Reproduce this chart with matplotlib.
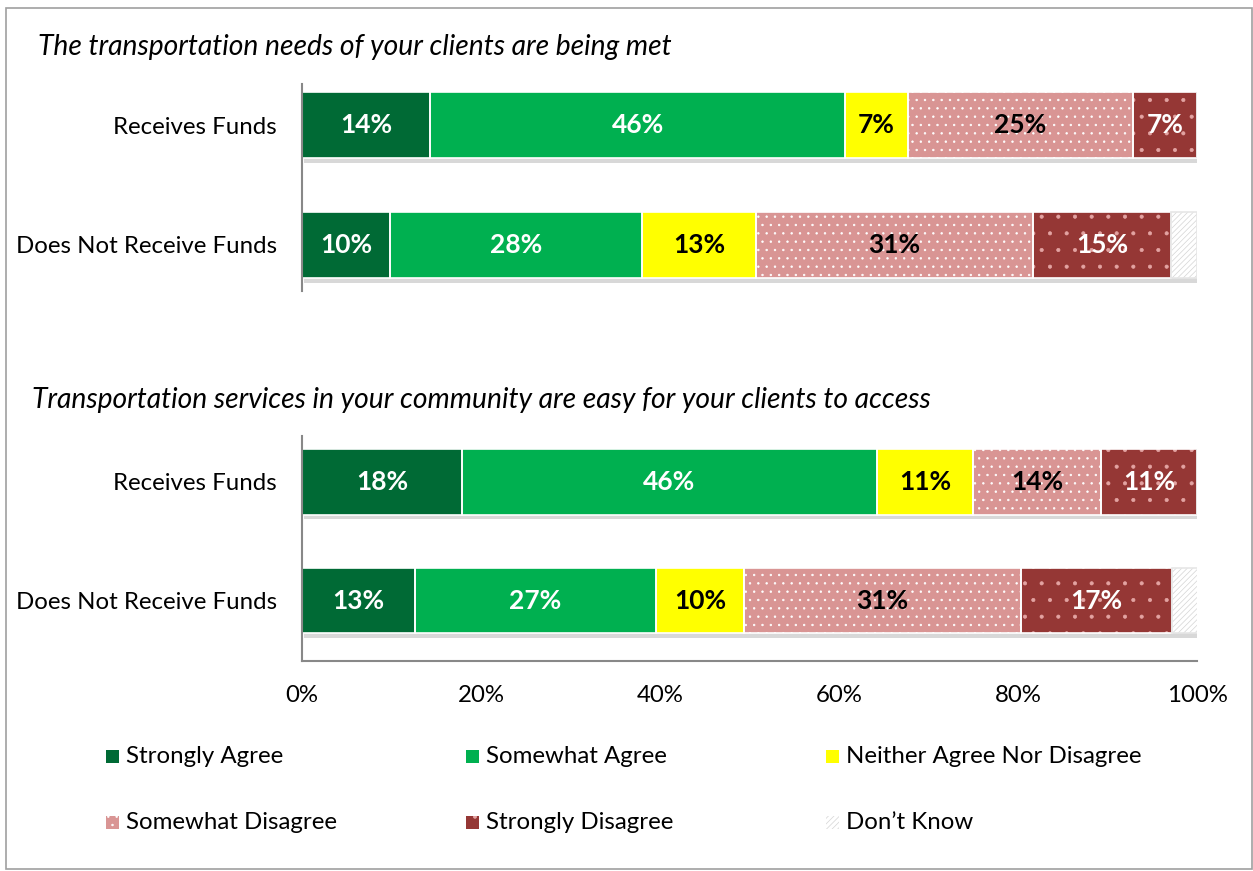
import matplotlib
matplotlib.use("Agg")
import matplotlib.pyplot as plt
import matplotlib.patheffects as pe
from matplotlib.patches import Rectangle
import numpy as np

plt.rcParams['font.family'] = ['Lato', 'DejaVu Sans']
plt.rcParams['hatch.linewidth'] = 0.5

# ---------------- data ----------------
groups = ["Receives Funds", "Does Not Receive Funds"]
categories = ["Strongly Agree", "Somewhat Agree", "Neither Agree Nor Disagree",
              "Somewhat Disagree", "Strongly Disagree", "Don\u2019t Know"]
titles = ["The transportation needs of your clients are being met",
          "Transportation services in your community are easy for your clients to access"]

needs_met_receives = [14.3, 46.4, 7.0, 25.1, 7.2, 0.0]
needs_met_not_receives = [9.8, 28.2, 12.7, 31.0, 15.4, 2.9]
easy_access_receives = [17.9, 46.3, 10.8, 14.3, 10.7, 0.0]
easy_access_not_receives = [12.6, 26.9, 9.9, 30.9, 16.9, 2.9]

xticks = [0, 20, 40, 60, 80, 100]
xtick_labels = ["0%", "20%", "40%", "60%", "80%", "100%"]

# ---------------- styles ----------------
face = ["#006A35", "#00B050", "#FFFF00", "#D99594", "#953735", "#FFFFFF"]
hatchcol = [None, None, None, "#FFFFFF", "#E3A3A2", "#D4D4D4"]
hatch = [None, None, None, "..", ".", "//////"]
txtcol = ["white", "white", "black", "black", "white", "black"]

W, H = 1253, 871
fig = plt.figure(figsize=(W / 100, H / 100), dpi=100)

def fx(px):
    return px / W

def fy(py):
    return 1 - py / H

left, right = fx(302), fx(1197)
ax1 = fig.add_axes([left, fy(291), right - left, fy(84) - fy(291)])
ax2 = fig.add_axes([left, fy(661), right - left, fy(436) - fy(661)])

panels = [(ax1, [needs_met_receives, needs_met_not_receives], (1.385, -0.343)),
          (ax2, [easy_access_receives, easy_access_not_receives], (1.51, -0.388))]

shadow = [pe.SimplePatchShadow(offset=(1.5, -3.5), shadow_rgbFace="#808080", alpha=0.3)]

for ax, rows, ylim in panels:
    data = np.array(rows)
    y = np.arange(len(groups))
    totals = data.sum(axis=1)
    # soft drop shadow under each whole bar
    sh = ax.barh(y, totals, height=0.55, color="none", linewidth=0, zorder=1.5)
    for b in sh:
        b.set_path_effects(shadow)
    lefts = np.zeros(len(groups))
    for j, cat in enumerate(categories):
        vals = data[:, j]
        # fill + hatch layer (hatch colour follows edgecolor)
        ax.barh(y, vals, left=lefts, height=0.55, facecolor=face[j],
                edgecolor=hatchcol[j] if hatchcol[j] else face[j],
                linewidth=0, hatch=hatch[j], zorder=2)
        # white separators
        ax.barh(y, vals, left=lefts, height=0.55, fill=False,
                edgecolor="white" if j < 5 else "#E6E6E6", linewidth=1.2, zorder=2.5)
        for yi, v, l in zip(y, vals, lefts):
            if v >= 5:
                ax.text(l + v / 2, yi, f"{round(v)}%", ha="center", va="center",
                        color=txtcol[j], fontsize=19, fontweight="bold", zorder=3)
        lefts += vals
    ax.set_xlim(0, 100)
    ax.set_ylim(*ylim)
    ax.set_yticks(y)
    ax.set_yticklabels(groups, fontsize=17.3)
    ax.tick_params(axis="y", length=0, pad=18)
    for s in ["top", "right"]:
        ax.spines[s].set_visible(False)
    ax.spines["left"].set_color("#888888")
    ax.spines["left"].set_linewidth(1.5)

ax1.spines["bottom"].set_visible(False)
ax1.set_xticks([])
ax2.spines["bottom"].set_color("#888888")
ax2.spines["bottom"].set_linewidth(1.5)
ax2.set_xticks(xticks)
ax2.set_xticklabels(xtick_labels, fontsize=17.3)
ax2.tick_params(axis="x", length=0, pad=17)

# titles
fig.text(fx(38), fy(47), titles[0], fontsize=20.3, style="italic", va="center", ha="left")
fig.text(fx(32), fy(400), titles[1], fontsize=20.3, style="italic", va="center", ha="left")

# legend (manual, Excel-like grid)
for i, cat in enumerate(categories):
    col, row = i % 3, i // 3
    x0 = 106 + col * 360
    yc = 756 + row * 66
    fig.patches.append(Rectangle((fx(x0), fy(yc + 6.5)), fx(13), 13 / H,
                                 transform=fig.transFigure, facecolor=face[i],
                                 edgecolor=hatchcol[i] if hatchcol[i] else face[i],
                                 linewidth=0, hatch=hatch[i]))
    fig.text(fx(x0 + 20), fy(yc), cat, fontsize=17.3, va="center", ha="left")

# figure border
fig.patches.append(Rectangle((fx(6), fy(869)), fx(1246), (869 - 8) / H,
                             transform=fig.transFigure, fill=False,
                             edgecolor="#A0A0A0", linewidth=1.2))

fig.savefig("out.png", dpi=100)
